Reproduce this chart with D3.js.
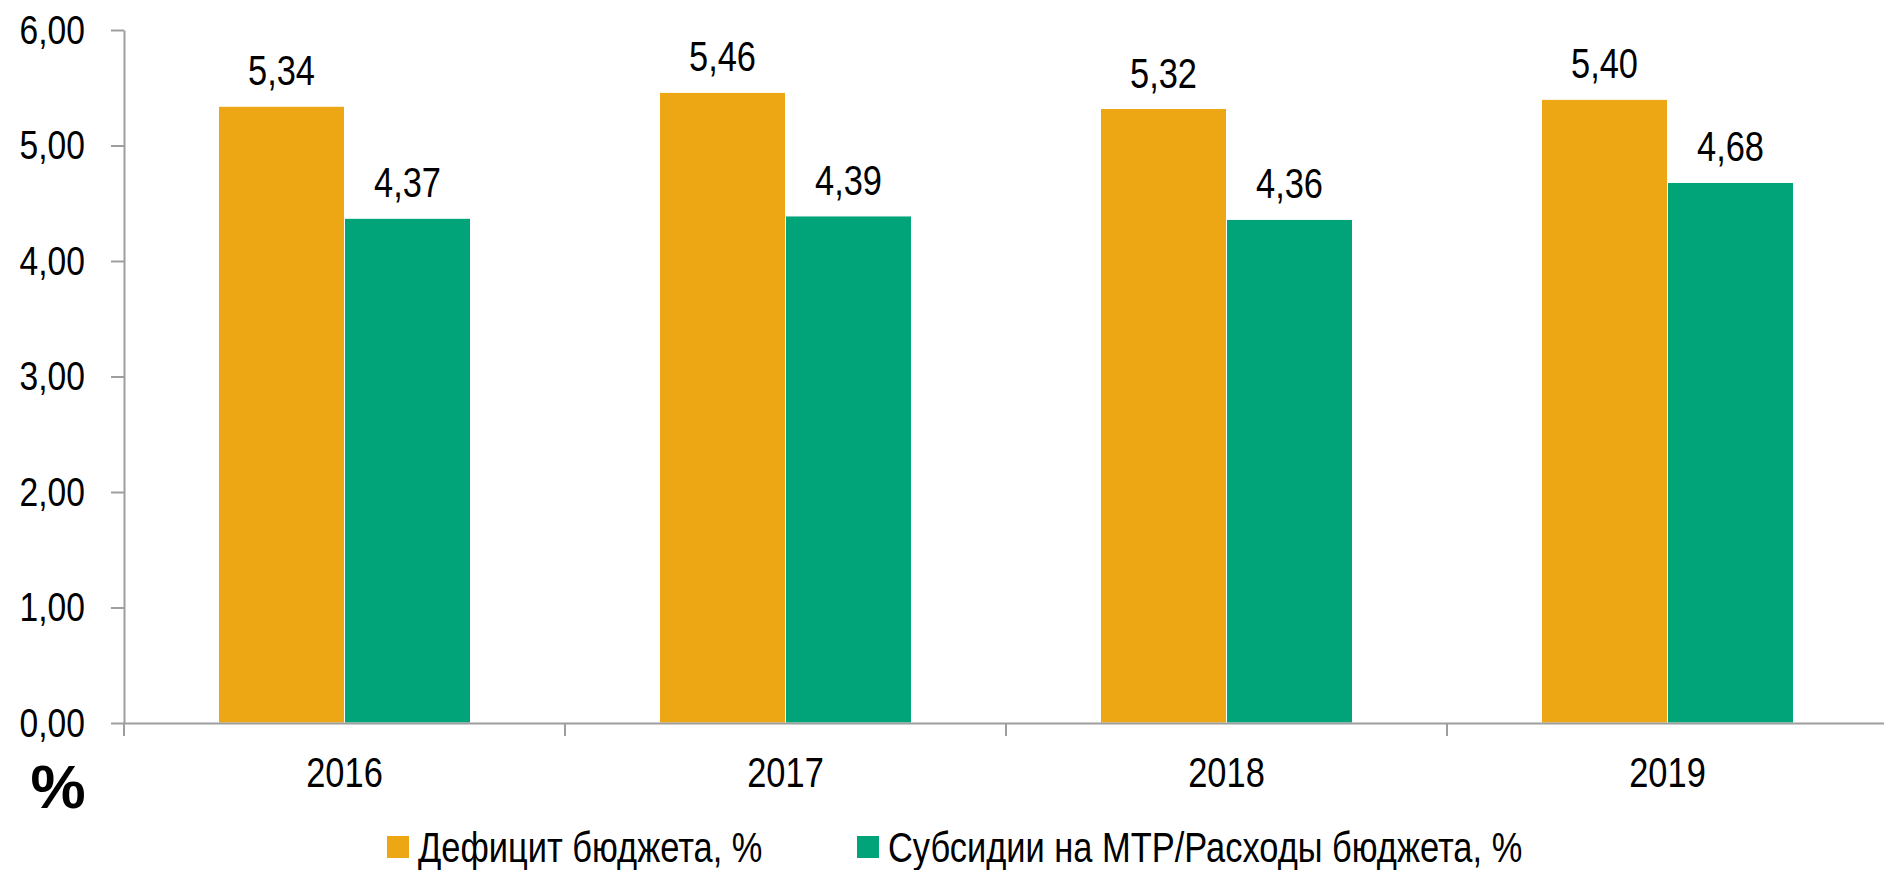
<!DOCTYPE html>
<html>
<head>
<meta charset="utf-8">
<script src="https://cdn.jsdelivr.net/npm/d3@7"></script>
<style>
  body { margin: 0; background: #fff; }
  svg text { font-family: "Liberation Sans", Arial, sans-serif; fill: #000; }
</style>
</head>
<body>
<div id="chart"></div>
<script>
// данные с графика
var years = ["2016", "2017", "2018", "2019"];
var seriesNames = ["Дефицит бюджета, %", "Субсидии на МТР/Расходы бюджета, %"];
var deficit = [5.34, 5.46, 5.32, 5.40];
var subsidies = [4.37, 4.39, 4.36, 4.68];
var yTicks = [0, 1, 2, 3, 4, 5, 6];
var colors = ["#EDA614", "#00A478"];

var width = 1884;
var height = 870;
var plot = { left: 124, right: 1888, top: 30, bottom: 723 };
var narrow = 0.82; // имитация Arial Narrow

var svg = d3.select("#chart").append("svg")
  .attr("width", width)
  .attr("height", height);

var rows = years.map(function(y, i) {
  return { year: y, values: [deficit[i], subsidies[i]] };
});

// шкалы
var x = d3.scaleBand().domain(years).range([plot.left, plot.right]).padding(0);
var xs = d3.scaleBand().domain([0, 1]).range([0, x.bandwidth()])
  .paddingInner(0).paddingOuter(0.75);
var y = d3.scaleLinear().domain([0, 6]).range([plot.bottom, plot.top]);

var fmt = function(d) { return d3.format(".2f")(d).replace(".", ","); };

// бары
var groups = svg.selectAll(".grp")
  .data(rows)
  .enter().append("g")
  .attr("class", "grp")
  .attr("transform", function(d) { return "translate(" + x(d.year) + ",0)"; });

groups.selectAll("rect")
  .data(function(d) { return d.values; })
  .enter().append("rect")
  .attr("x", function(d, i) { return xs(i); })
  .attr("y", function(d) { return y(d); })
  .attr("width", xs.bandwidth())
  .attr("height", function(d) { return y(0) - y(d); })
  .style("fill", function(d, i) { return colors[i]; })
  .style("stroke", "#fff")
  .style("stroke-width", 1);

groups.selectAll("text")
  .data(function(d) { return d.values; })
  .enter().append("text")
  .attr("transform", function(d, i) {
    return "translate(" + (xs(i) + xs.bandwidth() / 2) + "," + (y(d) - 21) + ") scale(" + narrow + ",1)";
  })
  .attr("text-anchor", "middle")
  .style("font-size", "42px")
  .text(fmt);

// ось Y
var yAxis = svg.append("g")
  .attr("transform", "translate(" + plot.left + ",0)")
  .call(d3.axisLeft(y).tickValues(yTicks).tickFormat(fmt).tickSize(13).tickSizeOuter(0).tickPadding(0));
yAxis.selectAll("text")
  .attr("x", -39 / narrow)
  .attr("transform", "scale(" + narrow + ",1)")
  .style("font-size", "41px");

// ось X
var xAxis = svg.append("g")
  .attr("transform", "translate(0," + plot.bottom + ")")
  .call(d3.axisBottom(x).tickSize(0).tickSizeOuter(0).tickPadding(34));
xAxis.selectAll("text")
  .attr("transform", "scale(" + narrow + ",1)")
  .style("font-size", "42px");
xAxis.selectAll(".tick line").remove();

var bounds = years.map(function(d) { return x(d); }).concat([x(years[years.length - 1]) + x.bandwidth()]);
xAxis.selectAll(".sep")
  .data(bounds)
  .enter().append("line")
  .attr("class", "sep")
  .attr("x1", function(d) { return d; })
  .attr("x2", function(d) { return d; })
  .attr("y1", 0)
  .attr("y2", 13);

svg.selectAll(".domain, .tick line, .sep")
  .style("stroke", "#9e9e9e")
  .style("stroke-width", 2);

// знак %
svg.append("text")
  .attr("x", 58)
  .attr("y", 808)
  .attr("text-anchor", "middle")
  .style("font-weight", "bold")
  .style("font-size", "62px")
  .text("%");

// легенда
var legendX = [387, 857];
var legend = svg.selectAll(".leg")
  .data(seriesNames)
  .enter().append("g")
  .attr("class", "leg")
  .attr("transform", function(d, i) { return "translate(" + legendX[i] + ",836)"; });

legend.append("rect")
  .attr("width", 22)
  .attr("height", 22)
  .style("fill", function(d, i) { return colors[i]; });

legend.append("text")
  .attr("transform", "translate(31,26) scale(" + narrow + ",1)")
  .style("font-size", "42px")
  .text(function(d) { return d; });
</script>
</body>
</html>
